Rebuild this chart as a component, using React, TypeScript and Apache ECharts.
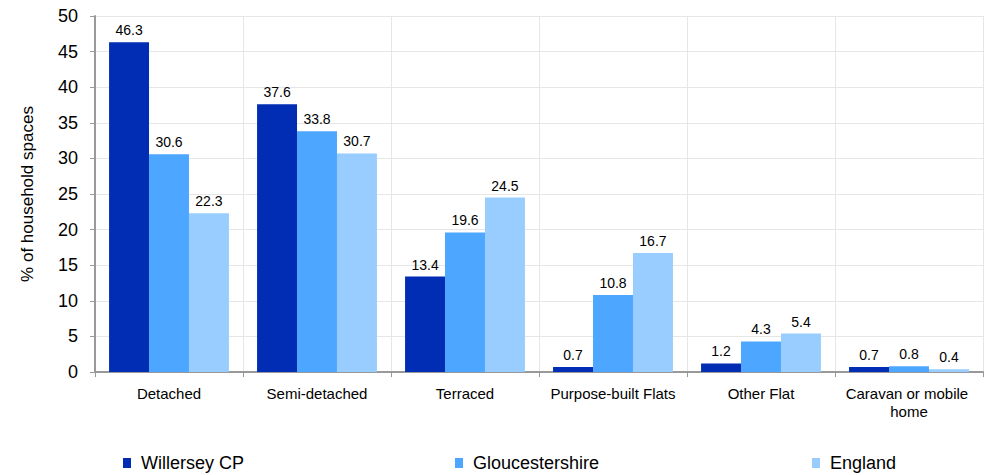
import React, { useEffect, useRef } from "react";
import * as echarts from "echarts";

const categories = ["Detached", "Semi-detached", "Terraced", "Purpose-built Flats", "Other Flat", "Caravan or mobile home"];
const willersey = [46.3, 37.6, 13.4, 0.7, 1.2, 0.7];
const gloucestershire = [30.6, 33.8, 19.6, 10.8, 4.3, 0.8];
const england = [22.3, 30.7, 24.5, 16.7, 5.4, 0.4];
const seriesNames = ["Willersey CP", "Gloucestershire", "England"];
const colors = ["#002DB3", "#4DA6FF", "#99CCFF"];

export default function App() {
  const ref = useRef<HTMLDivElement>(null);
  useEffect(() => {
    const chart = echarts.init(ref.current!, null, { renderer: "svg" });
    const font = "'Liberation Sans', Arial, sans-serif";
    const data = [willersey, gloucestershire, england];
    const legendLefts = [123, 455, 812];
    chart.setOption({
      animation: false,
      textStyle: { fontFamily: font },
      grid: { left: 95, right: 5, top: 16, bottom: 103 },
      legend: seriesNames.map((n, i) => ({
        data: [n],
        left: legendLefts[i],
        top: 454,
        padding: 0,
        itemWidth: 8,
        itemHeight: 10,
        icon: "rect",
        textStyle: { fontFamily: font, fontSize: 18, color: "#000", padding: [0, 0, 0, 5] },
      })),
      xAxis: {
        type: "category",
        data: categories,
        axisLine: { lineStyle: { color: "#999", width: 2 } },
        axisTick: { show: true, length: 5, interval: 0, lineStyle: { color: "#999" } },
        splitLine: { show: true, interval: 0, lineStyle: { color: "#e6e6e6" } },
        axisLabel: { interval: 0, color: "#000", fontSize: 15, margin: 12, width: 140, overflow: "break", lineHeight: 18, fontFamily: font },
      },
      yAxis: {
        type: "value",
        min: 0,
        max: 50,
        interval: 5,
        name: "% of household spaces",
        nameLocation: "middle",
        nameGap: 59,
        nameTextStyle: { color: "#000", fontSize: 17, fontFamily: font },
        axisLine: { show: true, lineStyle: { color: "#999", width: 2 } },
        axisTick: { show: true, length: 5, lineStyle: { color: "#999" } },
        splitLine: { show: true, lineStyle: { color: "#e6e6e6" } },
        axisLabel: { color: "#000", fontSize: 18, margin: 17, fontFamily: font },
      },
      series: data.map((d, i) => ({
        type: "bar",
        name: seriesNames[i],
        data: d,
        barGap: "0%",
        barCategoryGap: "19%",
        itemStyle: { color: colors[i] },
        label: { show: true, position: "top", color: "#000", fontSize: 14, distance: 5, fontFamily: font },
      })),
    });
    return () => chart.dispose();
  }, []);
  return <div ref={ref} style={{ width: 988, height: 475, position: "absolute", left: 0, top: 0 }} />;
}
